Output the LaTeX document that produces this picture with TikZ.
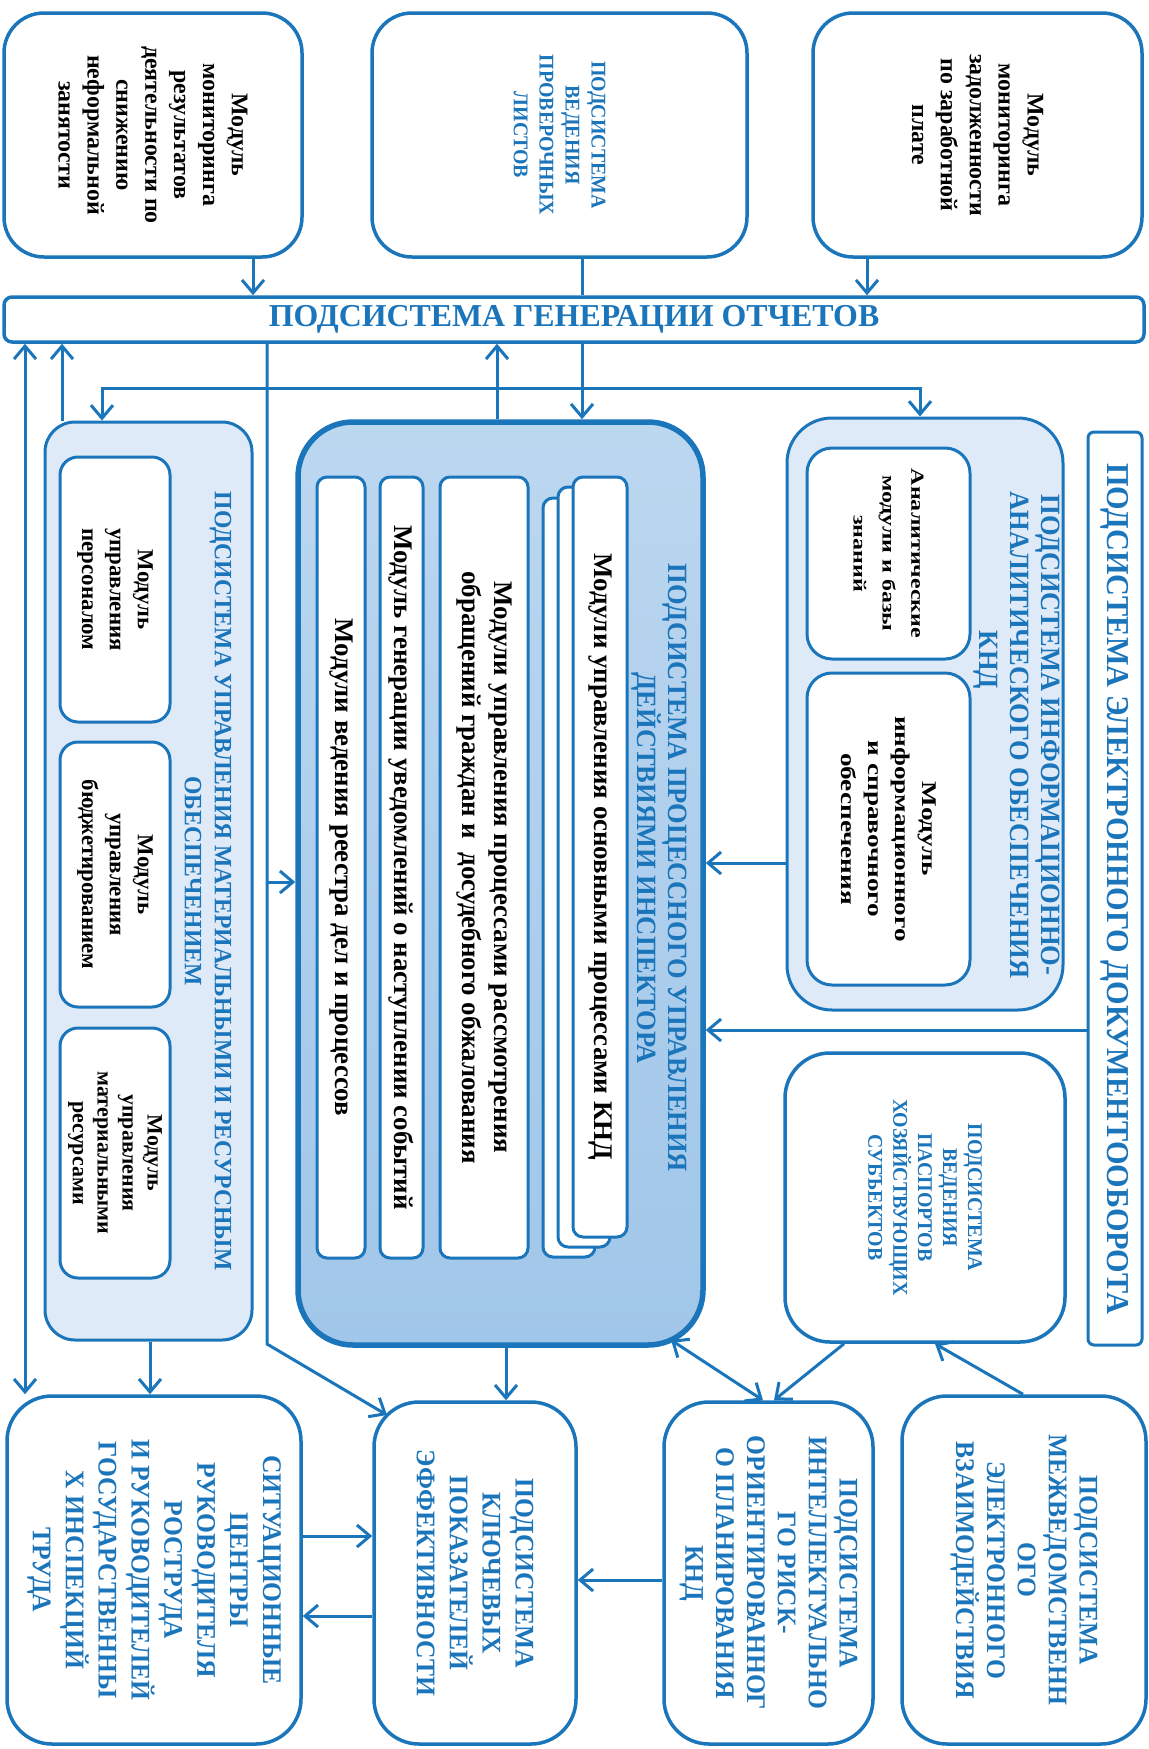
\documentclass[tikz,border=0pt]{standalone}
\usepackage{fontspec}
\setmainfont{Liberation Serif}
\newfontfamily\capfont[FakeStretch=0.95]{Liberation Serif}
\newfontfamily\widefont[FakeStretch=1.3]{Liberation Serif}
\usetikzlibrary{arrows.meta,calc}
\definecolor{kblue}{RGB}{27,117,187}
\definecolor{ptop}{RGB}{188,215,240}
\definecolor{pbot}{RGB}{160,198,233}
\definecolor{lfill}{RGB}{222,234,247}
\newcommand{\fsz}[2]{\fontsize{#1}{#2}\selectfont}
\newcommand{\rbox}[6][]{\node[#1, minimum width={((#5)-(#3))*1bp}, minimum height={((#6)-(#4))*1bp}] (#2) at ({((#3)+(#5))/2},{((#4)+(#6))/2}) {};}
\begin{document}
\begin{tikzpicture}[x=1bp,y=-1bp,
  box/.style={draw=kblue, line width=3.5bp, fill=white, rounded corners=40bp, inner sep=0pt},
  lbox/.style={box, fill=lfill, line width=3bp},
  ibox/.style={box, line width=3bp, rounded corners=18bp},
  sbox/.style={box, line width=3bp, rounded corners=10bp},
  pbox/.style={draw=kblue, line width=5.5bp, top color=ptop, bottom color=pbot, rounded corners=55bp, inner sep=0pt},
  ln/.style={draw=kblue, line width=3bp},
  arr/.style={ln, -{Straight Barb[length=13bp,width=22bp,line width=3bp]}},
  arrb/.style={ln, {Straight Barb[length=13bp,width=22bp,line width=3bp]}-{Straight Barb[length=13bp,width=22bp,line width=3bp]}},
  btxt/.style={rotate=-90, align=center, inner sep=0pt, font=\bfseries\fsz{24}{29}},
  ctxt/.style={rotate=-90, align=center, inner sep=0pt, text=kblue, font=\capfont\bfseries\fsz{27}{33}}
]
\useasboundingbox (0,0) rectangle (1148,1749);

% top row
\rbox[box]{A}{4}{13}{302}{257}
\rbox[box]{B}{372}{13}{747}{257}
\rbox[box]{C}{813}{13}{1142}{257}
\node[btxt] (At) at (A.center) {Модуль\\мониторинга\\результатов\\деятельности по\\снижению\\неформальной\\занятости};
\node[ctxt, font=\capfont\bfseries\fsz{21}{26}] (Bt) at (B.center) {ПОДСИСТЕМА\\ВЕДЕНИЯ\\ПРОВЕРОЧНЫХ\\ЛИСТОВ};
\node[btxt] (Ct) at (C.center) {Модуль\\мониторинга\\задолженности\\по заработной\\плате};

% reports bar
\rbox[box, rounded corners=8bp]{bar}{4}{297}{1144}{342}
\node[inner sep=0pt, text=kblue, font=\bfseries\fsz{32}{36}] (bart) at (bar.center) {ПОДСИСТЕМА ГЕНЕРАЦИИ ОТЧЕТОВ};

% material subsystem
\rbox[lbox, rounded corners=30bp]{mat}{45}{422}{252}{1340}
\node[ctxt, font=\capfont\bfseries\fsz{25}{30}] (matt) at (208,881) {ПОДСИСТЕМА УПРАВЛЕНИЯ МАТЕРИАЛЬНЫМИ И РЕСУРСНЫМ\\ОБЕСПЕЧЕНИЕМ};
\rbox[ibox]{m1}{60}{457}{170}{722}
\rbox[ibox]{m2}{60}{742}{170}{1007}
\rbox[ibox]{m3}{60}{1028}{170}{1278}
\node[btxt, font=\bfseries\fsz{23}{28}] (m1t) at (m1.center) {Модуль\\управления\\персоналом};
\node[btxt, font=\bfseries\fsz{23}{28}] (m2t) at (m2.center) {Модуль\\управления\\бюджетированием};
\node[btxt, font=\bfseries\fsz{22}{25}] (m3t) at (m3.center) {Модуль\\управления\\материальными\\ресурсами};

% process subsystem
\rbox[pbox]{proc}{298}{422}{703}{1345}
\node[ctxt, font=\capfont\bfseries\fsz{28}{29}] (proct) at (659,868) {ПОДСИСТЕМА ПРОЦЕССНОГО УПРАВЛЕНИЯ\\ДЕЙСТВИЯМИ ИНСПЕКТОРА};
\rbox[sbox]{s4}{317}{477}{365}{1258}
\rbox[sbox]{s3}{380}{477}{423}{1258}
\rbox[sbox]{s2}{440}{477}{528}{1258}
\rbox[sbox]{L3}{543}{498}{595}{1257}
\rbox[sbox]{L2}{558}{487}{610}{1247}
\rbox[sbox]{L1}{573}{477}{627}{1237}
\node[btxt, font=\bfseries\fsz{27}{32}] (L1t) at (L1.center) {Модули управления основными процессами КНД};
\node[btxt, font=\bfseries\fsz{27}{32}] (s2t) at (s2.center) {Модули управления процессами рассмотрения\\обращений граждан и\ \ досудебного обжалования};
\node[btxt, font=\bfseries\fsz{27}{32}] (s3t) at (s3.center) {Модуль генерации уведомлений о наступлении событий};
\node[btxt, font=\bfseries\fsz{27}{32}] (s4t) at (s4.center) {Модули ведения реестра дел и процессов};

% info-analytic subsystem
\rbox[lbox, rounded corners=45bp]{info}{787}{418}{1063}{1010}
\node[ctxt, font=\capfont\bfseries\fsz{28}{31}] (infot) at (1017,735) {ПОДСИСТЕМА ИНФОРМАЦИОННО-\\АНАЛИТИЧЕСКОГО ОБЕСПЕЧЕНИЯ\\КНД\hspace*{150bp}};
\rbox[ibox, rounded corners=25bp]{i1}{807}{448}{970}{659}
\rbox[ibox, rounded corners=25bp]{i2}{807}{673}{970}{985}
\node[btxt, font=\widefont\bfseries\fsz{18.5}{29}] (i1t) at (i1.center) {Аналитические\\модули и базы\\знаний};
\node[btxt, font=\widefont\bfseries\fsz{21}{27}] (i2t) at (i2.center) {Модуль\\информационного\\и справочного\\обеспечения};

% document flow
\rbox[box, rounded corners=6bp, line width=3bp]{doc}{1088}{432}{1142}{1345}
\node[ctxt, font=\capfont\bfseries\fsz{32}{34}] (doct) at (doc.center) {ПОДСИСТЕМА ЭЛЕКТРОННОГО ДОКУМЕНТООБОРОТА};

% passports
\rbox[box, rounded corners=45bp]{pass}{785}{1053}{1065}{1342}
\node[ctxt, font=\capfont\bfseries\fsz{21}{25}] (passt) at (pass.center) {ПОДСИСТЕМА\\ВЕДЕНИЯ\\ПАСПОРТОВ\\ХОЗЯЙСТВУЮЩИХ\\СУБЪЕКТОВ};

% bottom row
\rbox[box, rounded corners=45bp]{sit}{7}{1396}{301}{1744}
\rbox[box, rounded corners=45bp]{kpi}{374}{1402}{576}{1744}
\rbox[box, rounded corners=45bp]{risk}{664}{1402}{873}{1744}
\rbox[box, rounded corners=45bp]{mezh}{902}{1396}{1146}{1744}
\node[ctxt] (sitt) at (sit.center) {СИТУАЦИОННЫЕ\\ЦЕНТРЫ\\РУКОВОДИТЕЛЯ\\РОСТРУДА\\И РУКОВОДИТЕЛЕЙ\\ГОСУДАРСТВЕННЫ\\Х ИНСПЕКЦИЙ\\ТРУДА};
\node[ctxt] (kpit) at (kpi.center) {ПОДСИСТЕМА\\КЛЮЧЕВЫХ\\ПОКАЗАТЕЛЕЙ\\ЭФФЕКТИВНОСТИ};
\node[ctxt, font=\capfont\bfseries\fsz{27}{31}] (riskt) at (risk.center) {ПОДСИСТЕМА\\ИНТЕЛЛЕКТУАЛЬНО\\ГО РИСК-\\ОРИЕНТИРОВАННОГ\\О ПЛАНИРОВАНИЯ\\КНД};
\node[ctxt, font=\capfont\bfseries\fsz{27}{31}] (mezht) at (mezh.center) {ПОДСИСТЕМА\\МЕЖВЕДОМСТВЕНН\\ОГО\\ЭЛЕКТРОННОГО\\ВЗАИМОДЕЙСТВИЯ};

% connectors
\draw[arr] (253,0 |- A.south) -- (253,0 |- bar.north);
\draw[ln] (582,0 |- B.south) -- (582,0 |- bar.north);
\draw[arr] (867,0 |- C.south) -- (867,0 |- bar.north);
\draw[arr] (582,0 |- bar.south) -- (582,0 |- proc.north);
\draw[arr] (497,0 |- proc.north) -- (497,0 |- bar.south);
\coordinate (j) at (497,388);
\draw[arr] (j) -| (102,0 |- mat.north);
\draw[arr] (j) -| (920,0 |- info.north);
\draw[arr] (62,0 |- mat.north) -- (62,0 |- bar.south);
\draw[arrb] (25,0 |- bar.south) -- (25,0 |- sit.north);
\draw[arr] (150,0 |- mat.south) -- (150,0 |- sit.north);
\coordinate (k) at (267,1344);
\coordinate (kpicorner) at (387,1415);
\draw[arr] (267,0 |- bar.south) -- (k) -- (kpicorner);
\coordinate (kb) at (267,882);
\draw[arr] (kb) -- (proc.west |- kb);
\coordinate (ia) at (0,863);
\draw[arr] (info.west |- ia) -- (proc.east |- ia);
\coordinate (da) at (0,1030);
\draw[arr] (doc.west |- da) -- (proc.east |- da);
\draw[arr] (506,0 |- proc.south) -- (506,0 |- kpi.north);
\coordinate (pc) at (671,1340);
\draw[arrb] (pc) -- (763,0 |- risk.north);
\draw[arr] (844,0 |- pass.south) -- (774,0 |- risk.north);
\draw[arr] (1023,0 |- mezh.north) -- (935,0 |- pass.south);
\coordinate (h1) at (0,1536);
\coordinate (h2) at (0,1616);
\coordinate (h3) at (0,1580);
\draw[arr] (sit.east |- h1) -- (kpi.west |- h1);
\draw[arr] (kpi.west |- h2) -- (sit.east |- h2);
\draw[arr] (risk.west |- h3) -- (kpi.east |- h3);
\end{tikzpicture}
\end{document}
